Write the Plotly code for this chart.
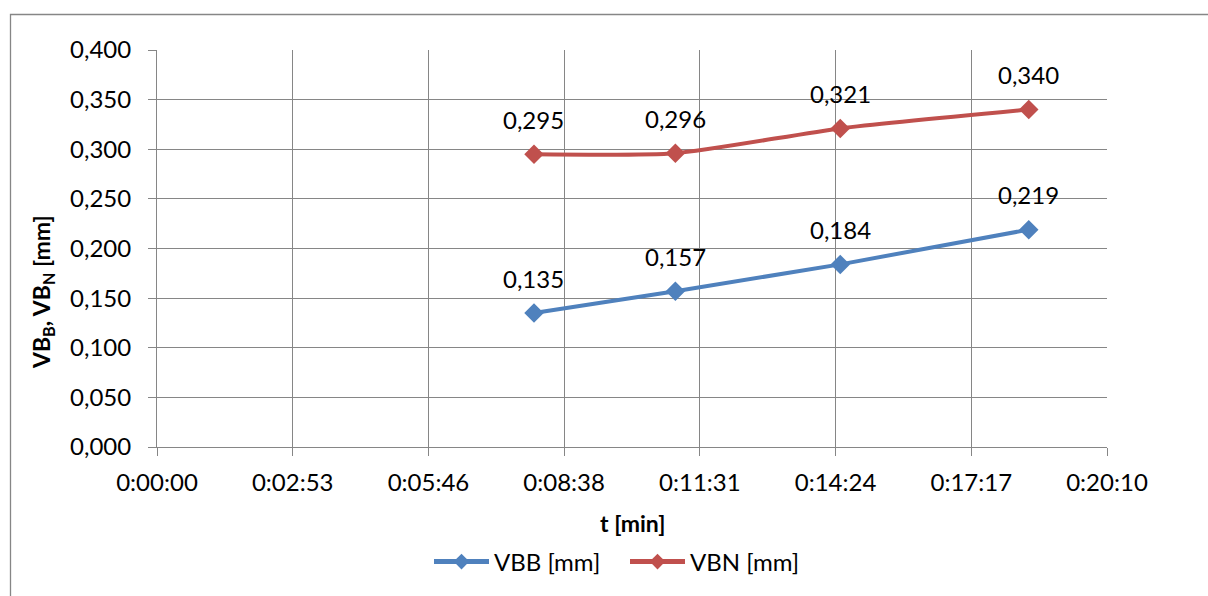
import plotly.graph_objects as go

# Measurement times (h:mm:ss) and flank wear values
times = ["0:08:00", "0:11:00", "0:14:30", "0:18:30"]
vbb = [0.135, 0.157, 0.184, 0.219]
vbn = [0.295, 0.296, 0.321, 0.340]

# Time axis ticks every 0.002 day (172.8 s), as a spreadsheet time axis
tick_seconds = [0, 172.8, 345.6, 518.4, 691.2, 864.0, 1036.8, 1209.6]
tick_labels = ["0:00:00", "0:02:53", "0:05:46", "0:08:38", "0:11:31", "0:14:24", "0:17:17", "0:20:10"]
y_ticks = [0, 0.05, 0.1, 0.15, 0.2, 0.25, 0.3, 0.35, 0.4]


def to_seconds(t):
    h, m, s = (int(p) for p in t.split(":"))
    return h * 3600 + m * 60 + s


x = [to_seconds(t) for t in times]

FONT = "Lato"
FS = 24
GRID = "#868686"
BLUE = "#4F81BD"
RED = "#C0504D"

fig = go.Figure()
fig.add_trace(go.Scatter(
    x=x, y=vbb, name="VBB [mm]", mode="lines+markers",
    line=dict(color=BLUE, width=4),
    marker=dict(symbol="diamond", size=15, color=BLUE),
))
fig.add_trace(go.Scatter(
    x=x, y=vbn, name="VBN [mm]", mode="lines+markers",
    line=dict(color=RED, width=4, shape="spline", smoothing=0.6),
    marker=dict(symbol="diamond", size=15, color=RED),
))

# Value labels above each point
for series in (vbb, vbn):
    for xi, yi in zip(x, series):
        fig.add_annotation(
            x=xi, y=yi, text=f"{yi:.3f}".replace(".", ","),
            showarrow=False, yshift=35,
            font=dict(family=FONT, size=FS, color="black"),
        )

L, R, T, B = 157, 101, 50, 149
W, H = 1208, 596
pw, ph = W - L - R, H - T - B

# Y-axis title with subscripts
fig.add_annotation(
    xref="paper", yref="paper", x=(42 - L) / pw, y=1 - (292 - T) / ph,
    xanchor="center", yanchor="middle",
    text="<b>VB<sub>B</sub>, VB<sub>N</sub> [mm]</b>", textangle=-90,
    showarrow=False, font=dict(family=FONT, size=FS - 1, color="black"),
)
# X-axis title
fig.add_annotation(
    xref="paper", yref="paper", x=0.5, y=-(523 - (T + ph)) / ph,
    xanchor="center", yanchor="middle",
    text="<b>t [min]</b>", showarrow=False,
    font=dict(family=FONT, size=FS - 1, color="black"),
)
# Chart area border
fig.add_shape(
    type="rect", xref="paper", yref="paper",
    x0=(10.5 - L) / pw, x1=(W + 10 - L) / pw,
    y0=-(H + 10 - T - ph) / ph, y1=(T - 14.5) / ph + 1,
    line=dict(color=GRID, width=1.3), layer="below",
)

fig.update_layout(
    width=W, height=H,
    margin=dict(l=L, r=R, t=T, b=B),
    paper_bgcolor="white", plot_bgcolor="white",
    separators=",.",
    font=dict(family=FONT, size=FS, color="black"),
    showlegend=True,
    legend=dict(
        orientation="h", x=(625 - L) / pw, xanchor="center",
        y=-(562 - (T + ph)) / ph, yanchor="middle",
        itemwidth=55, itemsizing="constant",
        entrywidth=126, entrywidthmode="pixels",
        font=dict(family=FONT, size=FS),
        bgcolor="rgba(0,0,0,0)",
    ),
)
fig.update_xaxes(
    range=[0, 1209.6], tickmode="array", tickvals=tick_seconds, ticktext=tick_labels,
    showgrid=True, gridcolor=GRID, gridwidth=1,
    showline=True, linecolor=GRID, linewidth=1,
    ticks="outside", ticklen=8, tickcolor=GRID, ticklabelstandoff=6,
    tickfont=dict(family=FONT, size=FS), zeroline=False,
)
fig.update_yaxes(
    range=[0, 0.4], tickmode="array", tickvals=y_ticks, tickformat=".3f",
    showgrid=True, gridcolor=GRID, gridwidth=1,
    showline=True, linecolor=GRID, linewidth=1,
    ticks="outside", ticklen=8, tickcolor=GRID, ticklabelstandoff=12,
    tickfont=dict(family=FONT, size=FS), zeroline=False,
)

fig.write_html("out.html")
